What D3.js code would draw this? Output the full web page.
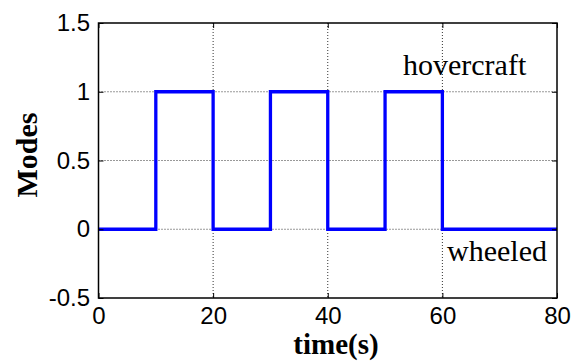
<!DOCTYPE html>
<html>
<head>
<meta charset="utf-8">
<script src="https://cdn.jsdelivr.net/npm/d3@7"></script>
<style>
  body { margin: 0; background: #fff; }
  svg { display: block; }
  .tick text { font-family: "Liberation Sans", Arial, sans-serif; font-size: 24px; fill: #000; }
  .lbl { font-family: "Liberation Serif", "Times New Roman", serif; font-size: 30px; fill: #000; }
</style>
</head>
<body>
<svg id="chart"></svg>
<script>
// switching times (s) and the mode held from that time on
const times = [0, 10, 20, 30, 40, 50, 60, 80];
const modes = [0, 1, 0, 1, 0, 1, 0, 0];
const xTicks = [0, 20, 40, 60, 80];
const yTicks = [-0.5, 0, 0.5, 1, 1.5];
const modeLabels = ["hovercraft", "wheeled"];

const width = 585, height = 361;
const margin = { top: 23, right: 28, bottom: 63, left: 98.5 };

const svg = d3.select("#chart").attr("width", width).attr("height", height);

const x = d3.scaleLinear().domain([0, 80]).range([margin.left, width - margin.right]);
const y = d3.scaleLinear().domain([-0.5, 1.5]).range([height - margin.bottom, margin.top]);

// dotted grid
svg.append("g")
  .selectAll("line")
  .data(xTicks.slice(1, -1))
  .enter().append("line")
  .attr("x1", d => x(d)).attr("x2", d => x(d))
  .attr("y1", y(1.5)).attr("y2", y(-0.5))
  .attr("stroke", "#333").attr("stroke-width", 1).attr("stroke-dasharray", "1,2");

svg.append("g")
  .selectAll("line")
  .data(yTicks.slice(1, -1))
  .enter().append("line")
  .attr("x1", x(0)).attr("x2", x(80))
  .attr("y1", d => y(d)).attr("y2", d => y(d))
  .attr("stroke", "#333").attr("stroke-width", 1).attr("stroke-dasharray", "1,2");

// step line
const line = d3.line()
  .x(d => x(d))
  .y((d, i) => y(modes[i]))
  .curve(d3.curveStepAfter);

svg.append("path")
  .datum(times)
  .attr("d", line)
  .attr("fill", "none")
  .attr("stroke", "#0000ff")
  .attr("stroke-width", 3.3);

// axes with inward ticks
const xAxis = d3.axisBottom(x).tickValues(xTicks).tickSize(-5).tickPadding(9).tickFormat(d3.format("d"));
const yAxis = d3.axisLeft(y).tickValues(yTicks).tickSize(-5).tickPadding(8.5).tickFormat(d => d);

svg.append("g")
  .attr("transform", `translate(0,${y(-0.5)})`)
  .call(xAxis)
  .call(g => g.select(".domain").remove());

svg.append("g")
  .attr("transform", `translate(${x(0)},0)`)
  .call(yAxis)
  .call(g => g.select(".domain").remove());

// top / right ticks
svg.append("g")
  .attr("transform", `translate(0,${y(1.5)})`)
  .call(d3.axisTop(x).tickValues(xTicks).tickSize(-5).tickFormat(""))
  .call(g => g.select(".domain").remove());
svg.append("g")
  .attr("transform", `translate(${x(80)},0)`)
  .call(d3.axisRight(y).tickValues(yTicks).tickSize(-5).tickFormat(""))
  .call(g => g.select(".domain").remove());

// frame
svg.append("rect")
  .attr("x", x(0)).attr("y", y(1.5))
  .attr("width", x(80) - x(0)).attr("height", y(-0.5) - y(1.5))
  .attr("fill", "none").attr("stroke", "#000").attr("stroke-width", 1.5);

// labels
svg.append("text")
  .attr("class", "lbl")
  .attr("x", 336).attr("y", 354)
  .attr("text-anchor", "middle")
  .attr("font-weight", "bold")
  .style("font-size", "29px")
  .text("time(s)");

svg.append("text")
  .attr("class", "lbl")
  .attr("transform", "translate(37,155) rotate(-90)")
  .attr("text-anchor", "middle")
  .attr("font-weight", "bold")
  .text("Modes");

svg.append("text")
  .attr("class", "lbl")
  .attr("x", 403).attr("y", 75)
  .text(modeLabels[0]);

svg.append("text")
  .attr("class", "lbl")
  .attr("x", 447).attr("y", 261)
  .text(modeLabels[1]);
</script>
</body>
</html>
